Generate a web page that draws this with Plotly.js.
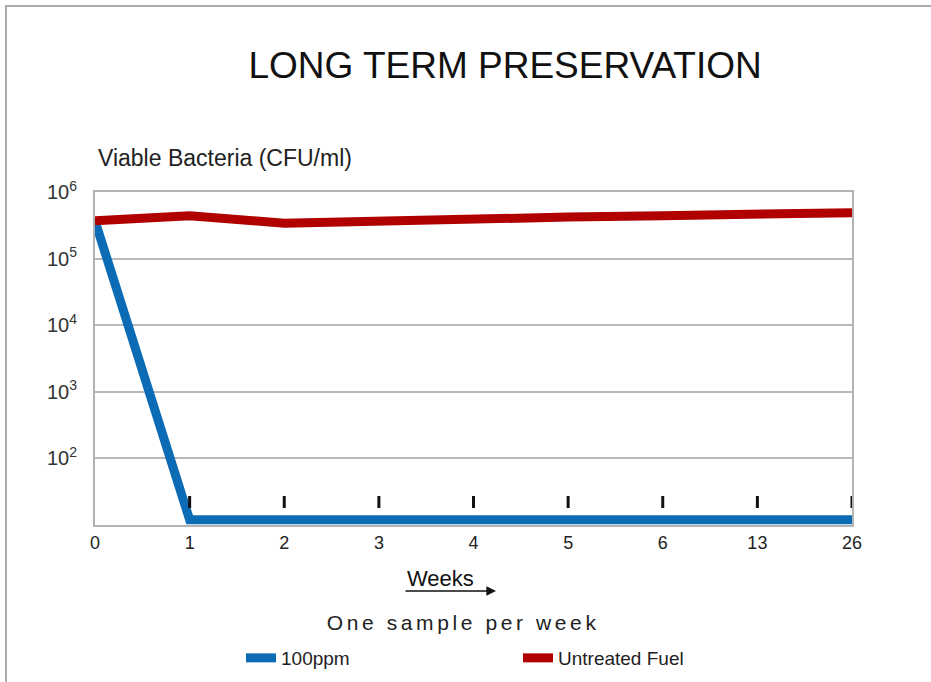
<!DOCTYPE html>
<html>
<head>
<meta charset="utf-8">
<script src="https://cdn.plot.ly/plotly-3.0.1.min.js"></script>
<style>
html,body{margin:0;padding:0;background:#fff;}
#chart{width:931px;height:682px;}
</style>
</head>
<body>
<div id="chart"></div>
<script>
// Data
const weeks = ["0", "1", "2", "3", "4", "5", "6", "13", "26"];
const treated100ppm = [370000, 12, 12, 12, 12, 12, 12, 12, 12];
const untreatedFuel = [370000, 440000, 340000, 370000, 400000, 420000, 440000, 470000, 490000];
const yTickVals = [100, 1000, 10000, 100000, 1000000];
const yTickText = ["10<sup>2</sup>", "10<sup>3</sup>", "10<sup>4</sup>", "10<sup>5</sup>", "10<sup>6</sup>"];
const markerWeeks = ["1", "2", "3", "4", "5", "6", "13", "26"];

const FONT = "Liberation Sans, Arial, sans-serif";
const L = 95, R = 852, T = 192, B = 525, W = 931, H = 682;
const px = v => (v - L) / (R - L);
const py = v => (B - v) / (B - T);

const traces = [
  {x: weeks, y: treated100ppm, type: "scatter", mode: "lines", name: "100ppm",
   line: {color: "#0b6cb5", width: 9}},
  {x: weeks, y: untreatedFuel, type: "scatter", mode: "lines", name: "Untreated Fuel",
   line: {color: "#b00000", width: 9}}
];

const shapes = markerWeeks.map(w => ({
  type: "line", xref: "x", yref: "paper",
  x0: weeks.indexOf(w), x1: weeks.indexOf(w),
  y0: py(508), y1: py(496),
  line: {color: "#111", width: 3}
}));
// outer frame (top and left edges)
shapes.push({type: "line", xref: "paper", yref: "paper", x0: px(6), x1: px(935), y0: py(6), y1: py(6), line: {color: "#aaaaaa", width: 2}});
shapes.push({type: "line", xref: "paper", yref: "paper", x0: px(6), x1: px(6), y0: py(5), y1: py(690), line: {color: "#aaaaaa", width: 2}});

const layout = {
  width: W, height: H,
  margin: {l: L, r: W - R, t: T, b: H - B, pad: 0, autoexpand: false},
  paper_bgcolor: "#fff", plot_bgcolor: "#fff",
  font: {family: FONT, color: "#222", size: 18},
  title: {text: "LONG TERM PRESERVATION", font: {family: FONT, size: 37, color: "#111"},
          x: 0.5425, xanchor: "center", y: 1 - 65 / H, yanchor: "middle"},
  xaxis: {type: "category", range: [0, 8], showgrid: false, zeroline: false,
          showline: true, linecolor: "#b3b3b3", linewidth: 2, mirror: true,
          ticks: "", tickfont: {family: FONT, size: 18, color: "#222"}, fixedrange: true},
  yaxis: {type: "log", range: [1, 6], tickvals: yTickVals, ticktext: yTickText,
          showgrid: true, gridcolor: "#b8b8b8", gridwidth: 2, zeroline: false,
          showline: true, linecolor: "#b3b3b3", linewidth: 2, mirror: true,
          ticks: "", ticklabelstandoff: 12, tickfont: {family: FONT, size: 20, color: "#333"}, fixedrange: true},
  showlegend: true,
  legend: {orientation: "h", x: px(241), xanchor: "left", y: py(658), yanchor: "middle",
           entrywidth: 232, entrywidthmode: "pixels", font: {family: FONT, size: 19, color: "#222"},
           bgcolor: "rgba(0,0,0,0)", itemwidth: 30},
  shapes: shapes,
  annotations: [
    {text: "Viable Bacteria (CFU/ml)", xref: "paper", yref: "paper", x: px(96), y: py(158),
     xanchor: "left", yanchor: "middle", showarrow: false, font: {family: FONT, size: 23, color: "#222"}},
    {text: "Weeks", xref: "paper", yref: "paper", x: px(440), y: py(578),
     xanchor: "center", yanchor: "middle", showarrow: false, font: {family: FONT, size: 22, color: "#111"}},
    {text: "", xref: "paper", yref: "paper", x: px(496), y: py(591), ax: -92, ay: 0,
     axref: "pixel", ayref: "pixel", showarrow: true, arrowhead: 2, arrowsize: 1.2, arrowwidth: 1.6, arrowcolor: "#111"},
    {text: "One sample per week", xref: "paper", yref: "paper", x: px(463), y: py(622),
     xanchor: "center", yanchor: "middle", showarrow: false, font: {family: FONT, size: 21, color: "#222"}}
  ]
};

Plotly.newPlot("chart", traces, layout, {displayModeBar: false, staticPlot: true}).then(() => {
  const texts = document.querySelectorAll(".annotation-text");
  texts.forEach(t => {
    if (t.textContent === "One sample per week") {
      t.style.letterSpacing = "3.6px";
    }
  });
});
</script>
</body>
</html>
